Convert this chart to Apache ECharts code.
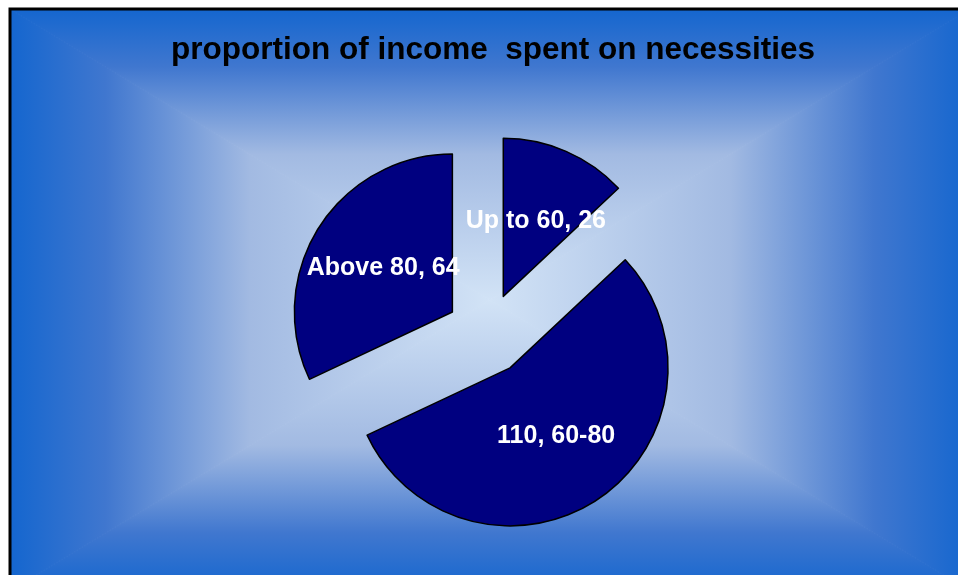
<!DOCTYPE html>
<html>
<head>
<meta charset="utf-8">
<script src="https://cdn.jsdelivr.net/npm/echarts@6/dist/echarts.min.js"></script>
<style>
  html, body { margin: 0; padding: 0; background: #fff; }
  #main { width: 958px; height: 575px; }
</style>
</head>
<body>
<div id="main"></div>
<script>
// data
var categories = ['Up to 60', '60-80', 'Above 80'];
var values = [26, 110, 64];
var labelFormats = ['{b}, {c}', '{c}, {b}', '{b}, {c}']; // the 60-80 label is written value first
var chartTitle = 'proportion of income  spent on necessities';

var chart = echarts.init(document.getElementById('main'));

// rectangular "from centre" gradient of the chart area, made from four triangles
var box = { x0: 10, y0: 9, x1: 970, y1: 591 };
var cx = 490, cy = 300;
var stops = [
  { offset: 0, color: '#1466cf' },
  { offset: 0.2, color: '#4077cf' },
  { offset: 0.5, color: '#a2bae2' },
  { offset: 1, color: '#d2e3f6' }
];
function grad(x, y, x2, y2) {
  return { type: 'linear', x: x, y: y, x2: x2, y2: y2, colorStops: stops };
}
function tri(points, g) {
  // stroke with the same gradient hides the seams between triangles
  return { type: 'polygon', shape: { points: points },
    style: { fill: g, stroke: g, lineWidth: 1 }, z: -10 };
}

var bg = [
  tri([[box.x0, box.y0], [box.x1, box.y0], [cx, cy]], grad(0, 0, 0, 1)),
  tri([[box.x0, box.y1], [box.x1, box.y1], [cx, cy]], grad(0, 1, 0, 0)),
  tri([[box.x0, box.y0], [box.x0, box.y1], [cx, cy]], grad(0, 0, 1, 0)),
  tri([[box.x1, box.y0], [box.x1, box.y1], [cx, cy]], grad(1, 0, 0, 0)),
  { type: 'rect', shape: { x: box.x0, y: box.y0, width: box.x1 - box.x0, height: box.y1 - box.y0 },
    style: { fill: 'none', stroke: '#000', lineWidth: 3 }, z: -5 }
];

var pieData = [];
for (var i = 0; i < categories.length; i++) {
  pieData.push({
    name: categories[i],
    value: values[i],
    selected: true,
    label: { formatter: labelFormats[i] }
  });
}

var option = {
  animation: false,
  graphic: bg,
  title: {
    text: chartTitle,
    left: 166,
    top: 29,
    textStyle: {
      fontFamily: 'Liberation Sans, Arial, sans-serif',
      fontSize: 31.5,
      fontWeight: 'bold',
      color: '#000'
    }
  },
  series: [
    {
      type: 'pie',
      center: [487, 334],
      radius: 158,
      startAngle: 90,
      clockwise: true,
      selectedMode: 'multiple',
      selectedOffset: 41,
      emphasis: { scale: false },
      itemStyle: {
        color: '#000080',
        borderColor: '#000',
        borderWidth: 1.5
      },
      label: {
        show: true,
        position: 'inside',
        color: '#fff',
        fontFamily: 'Liberation Sans, Arial, sans-serif',
        fontSize: 25,
        fontWeight: 'bold'
      },
      labelLine: { show: false },
      data: pieData
    }
  ]
};

chart.setOption(option);
</script>
</body>
</html>
